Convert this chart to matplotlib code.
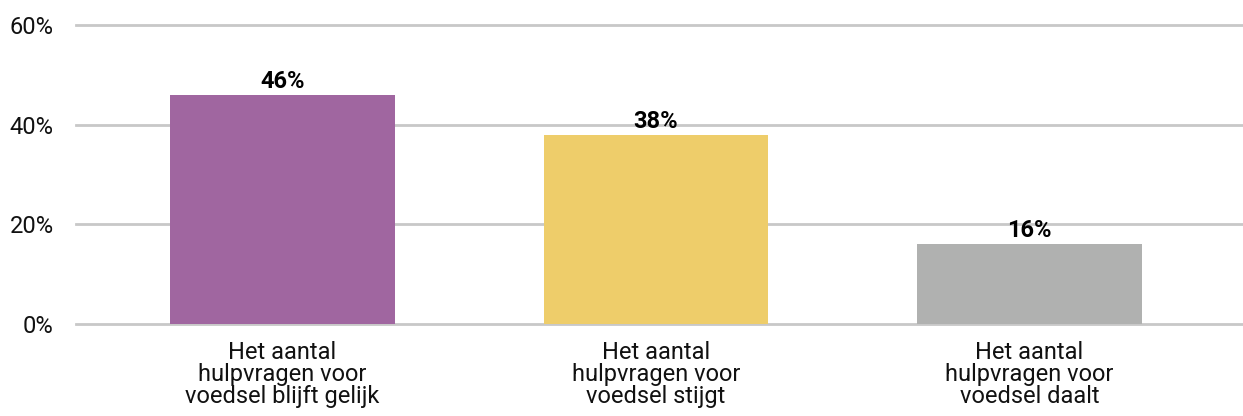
import numpy as np
import matplotlib.pyplot as plt

categories = ["Het aantal\nhulpvragen voor\nvoedsel blijft gelijk",
              "Het aantal\nhulpvragen voor\nvoedsel stijgt",
              "Het aantal\nhulpvragen voor\nvoedsel daalt"]
values = [46, 38, 16]
colors = ["#a066a0", "#eecd6a", "#b0b1b0"]
yticks = [0, 20, 40, 60]

plt.rcParams['font.family'] = ['Roboto', 'DejaVu Sans']

fig = plt.figure(figsize=(12.43, 4.16), dpi=100)
ax = fig.add_axes([76/1243, 1-324/416, 1-76/1243, (324-25)/416])

x = np.arange(len(values))
bars = ax.bar(x, values, width=0.602, color=colors, zorder=3)
for xi, v in zip(x, values):
    ax.text(xi, v + 0.4, "%d%%" % v, ha="center", va="bottom",
            fontsize=17, fontweight="bold", color="black", zorder=4)

ax.set_ylim(0, 60)
ax.set_xlim(-0.553, 2.572)
ax.set_yticks(yticks)
ax.set_yticklabels(["%d%%" % t for t in yticks], fontsize=17, color="#111111")
ax.set_xticks(x)
ax.set_xticklabels(categories, fontsize=17, color="#111111", linespacing=0.96)
ax.tick_params(axis="both", length=0)
ax.tick_params(axis="y", pad=16)
ax.tick_params(axis="x", pad=12)
ax.yaxis.grid(True, color="#c8c8c8", linewidth=2, zorder=0)
for gl in ax.get_ygridlines():
    gl.set_clip_on(False)
ax.set_axisbelow(True)
for s in ax.spines.values():
    s.set_visible(False)

plt.savefig("out.png", dpi=100)
